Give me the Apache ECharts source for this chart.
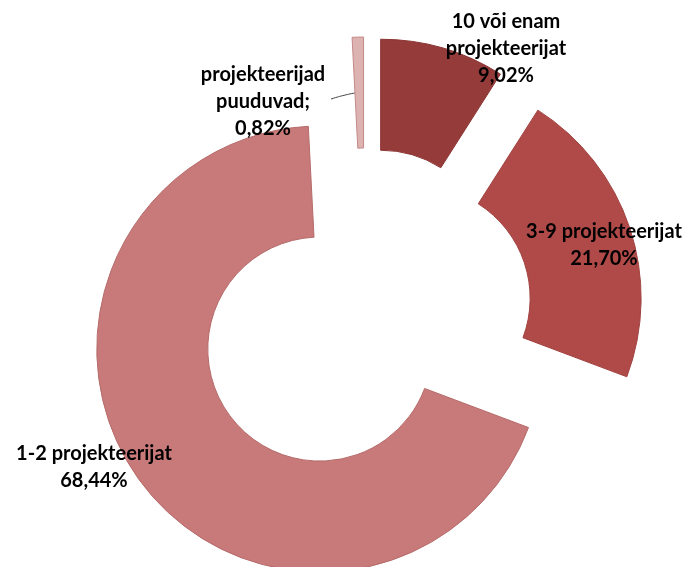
<!DOCTYPE html>
<html>
<head>
<meta charset="utf-8">
<script src="https://cdn.jsdelivr.net/npm/echarts@6/dist/echarts.min.js"></script>
<style>
  html, body { margin: 0; padding: 0; background: #fff; }
  #chart { width: 686px; height: 567px; }
</style>
</head>
<body>
<div id="chart"></div>
<script>
// andmed
const categories = ['10 või enam\nprojekteerijat', '3-9 projekteerijat', '1-2 projekteerijat', 'projekteerijad\npuuduvad'];
const shares = [9.02, 21.70, 68.44, 0.82];

// sektorite värvid
const colors = ['#953B3A', '#B04A48', '#C77A79', '#DDB3B2'];
const borders = ['#8A3433', '#A04341', '#B56B6A', '#C48988'];
// siltide asukohad (keskpunkt)
const labelPos = [[506, 49], [604, 245], [94, 467], [263, 102]];

const chart = echarts.init(document.getElementById('chart'));

// iga sektor eraldi seeriana, et "välja tõmmata" (explode)
const pieCenter = [365, 316];
const explode = 56;
const total = shares.reduce((a, b) => a + b, 0);

const series = [];
let acc = 0;
shares.forEach((v, k) => {
  const mid = (acc + v / 2) / total * 2 * Math.PI;
  acc += v;
  const cx = pieCenter[0] + explode * Math.sin(mid);
  const cy = pieCenter[1] - explode * Math.cos(mid);
  series.push({
    type: 'pie',
    center: [cx, cy],
    radius: [112, 223],
    startAngle: 90,
    clockwise: true,
    avoidLabelOverlap: false,
    emphasis: { disabled: true },
    data: categories.map((name, i) => ({
      name: name,
      value: shares[i],
      itemStyle: i === k
        ? { color: colors[i], borderColor: borders[i], borderWidth: 1 }
        : { color: 'rgba(0,0,0,0)', borderWidth: 0 },
      label: { show: i === k },
      labelLine: { show: i === k && i === 3 },
      silent: i !== k
    })),
    label: {
      position: 'outside',
      overflow: 'none',
      fontFamily: 'Lato',
      fontWeight: 'bold',
      fontSize: 20,
      lineHeight: 27,
      color: '#000',
      align: 'center',
      formatter: function (p) {
        const sep = p.dataIndex === 3 ? ';' : '';
        return p.name + sep + '\n' + p.value.toFixed(2).replace('.', ',') + '%';
      }
    },
    labelLine: {
      length: 10,
      length2: 10,
      smooth: 0.4,
      lineStyle: { color: '#404040', width: 1 }
    },
    labelLayout: function (params) {
      const pos = labelPos[params.dataIndex];
      const out = { x: pos[0], y: pos[1], align: 'center', verticalAlign: 'middle' };
      if (params.dataIndex === 3) {
        // juhtjoon sildist sektorini
        out.labelLinePoints = [[360, 92], [344, 95], [331, 99]];
      }
      return out;
    }
  });
});

chart.setOption({ animation: false, series: series });
</script>
</body>
</html>
